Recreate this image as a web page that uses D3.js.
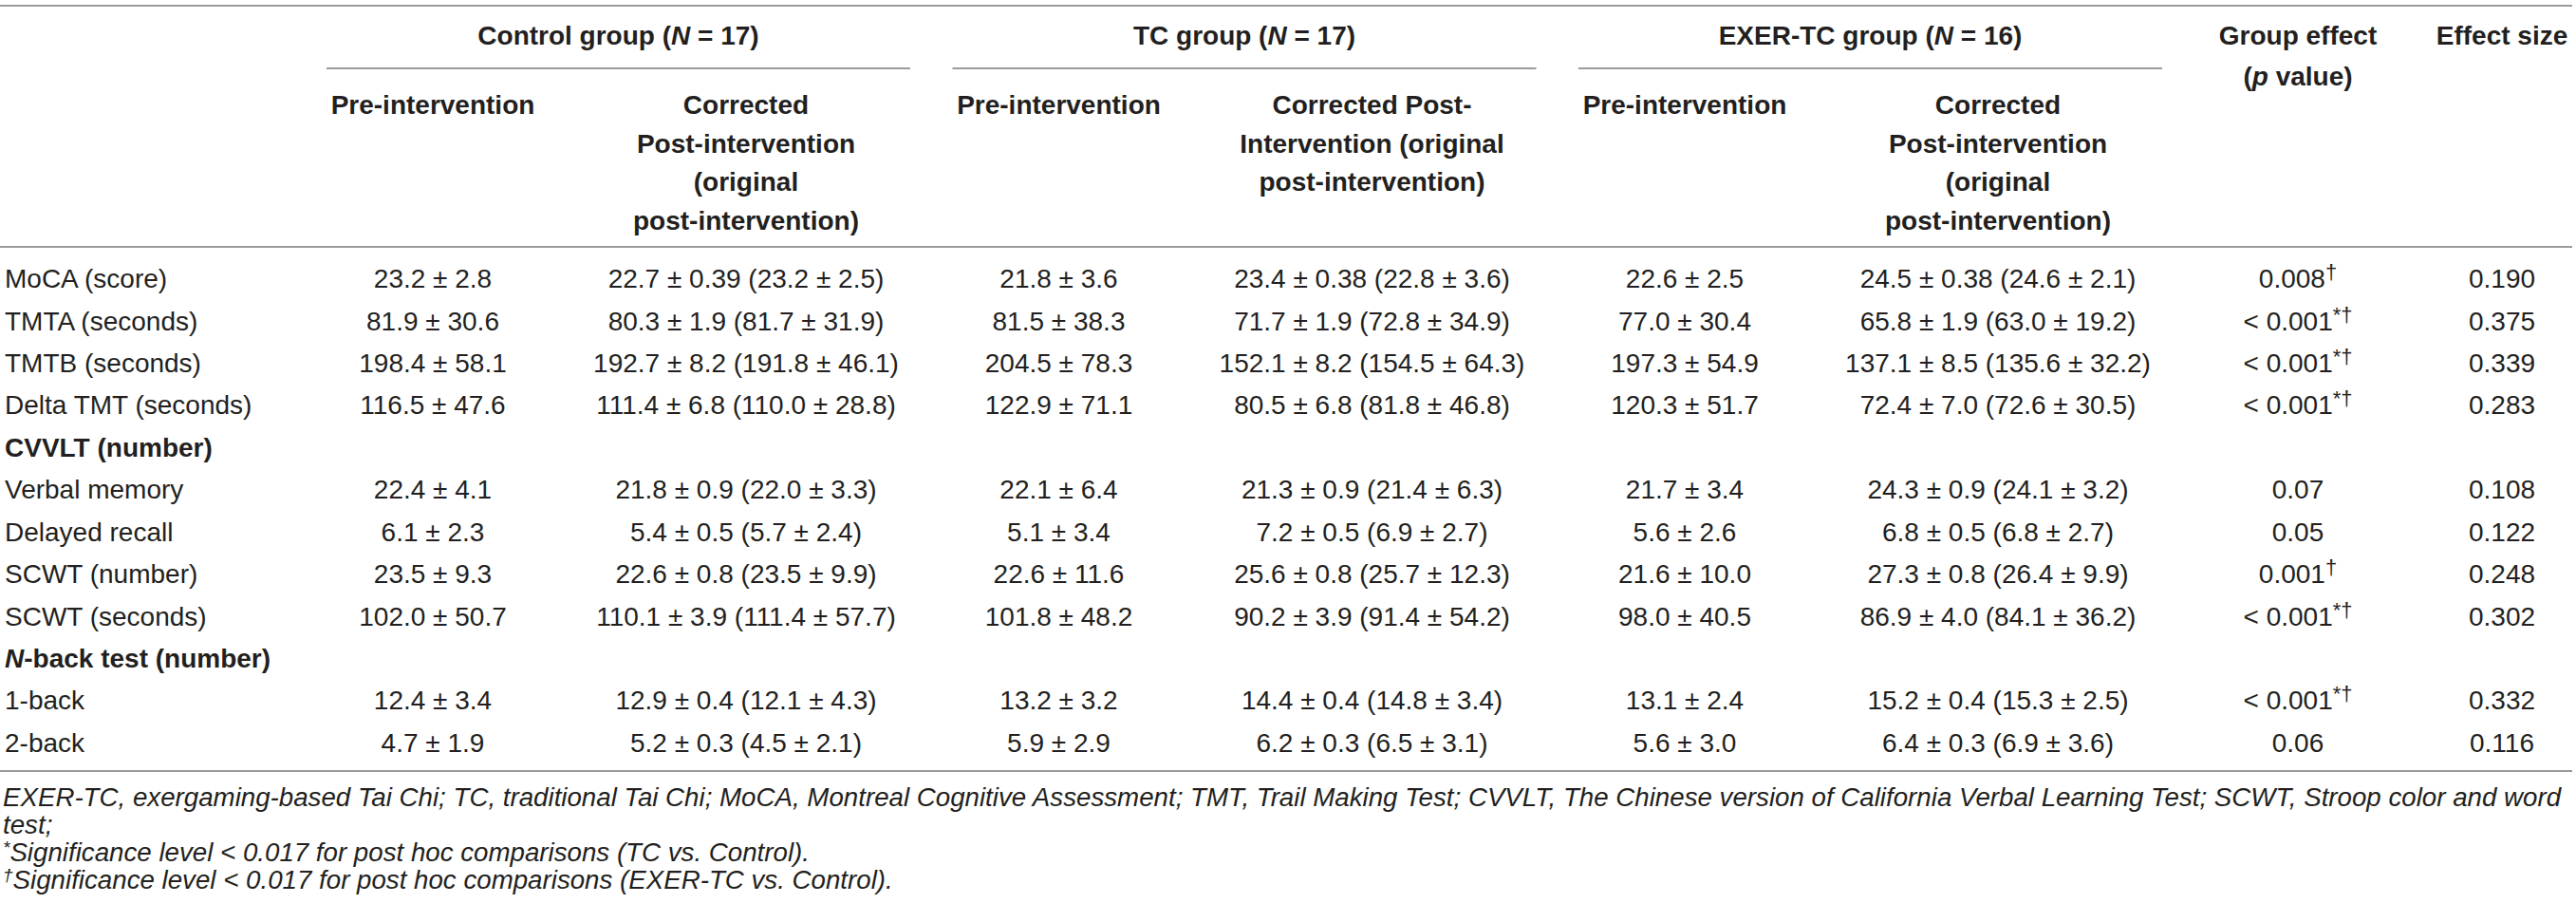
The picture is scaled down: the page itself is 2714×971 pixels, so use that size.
<!DOCTYPE html>
<html>
<head>
<meta charset="utf-8">
<script src="https://cdn.jsdelivr.net/npm/d3@7"></script>
<style>
  body { margin: 0; background: #fff; }
  svg { display: block; font-family: "Liberation Sans", Arial, sans-serif; }
</style>
</head>
<body>
<script>
// Table contents
const measures = ["MoCA (score)", "TMTA (seconds)", "TMTB (seconds)", "Delta TMT (seconds)",
  "CVVLT (number)", "Verbal memory", "Delayed recall", "SCWT (number)", "SCWT (seconds)",
  "N-back test (number)", "1-back", "2-back"];
const sectionRows = ["CVVLT (number)", "N-back test (number)"];

const controlPre = ["23.2 ± 2.8", "81.9 ± 30.6", "198.4 ± 58.1", "116.5 ± 47.6", null,
  "22.4 ± 4.1", "6.1 ± 2.3", "23.5 ± 9.3", "102.0 ± 50.7", null, "12.4 ± 3.4", "4.7 ± 1.9"];
const controlPost = ["22.7 ± 0.39 (23.2 ± 2.5)", "80.3 ± 1.9 (81.7 ± 31.9)", "192.7 ± 8.2 (191.8 ± 46.1)",
  "111.4 ± 6.8 (110.0 ± 28.8)", null, "21.8 ± 0.9 (22.0 ± 3.3)", "5.4 ± 0.5 (5.7 ± 2.4)",
  "22.6 ± 0.8 (23.5 ± 9.9)", "110.1 ± 3.9 (111.4 ± 57.7)", null, "12.9 ± 0.4 (12.1 ± 4.3)",
  "5.2 ± 0.3 (4.5 ± 2.1)"];
const tcPre = ["21.8 ± 3.6", "81.5 ± 38.3", "204.5 ± 78.3", "122.9 ± 71.1", null,
  "22.1 ± 6.4", "5.1 ± 3.4", "22.6 ± 11.6", "101.8 ± 48.2", null, "13.2 ± 3.2", "5.9 ± 2.9"];
const tcPost = ["23.4 ± 0.38 (22.8 ± 3.6)", "71.7 ± 1.9 (72.8 ± 34.9)", "152.1 ± 8.2 (154.5 ± 64.3)",
  "80.5 ± 6.8 (81.8 ± 46.8)", null, "21.3 ± 0.9 (21.4 ± 6.3)", "7.2 ± 0.5 (6.9 ± 2.7)",
  "25.6 ± 0.8 (25.7 ± 12.3)", "90.2 ± 3.9 (91.4 ± 54.2)", null, "14.4 ± 0.4 (14.8 ± 3.4)",
  "6.2 ± 0.3 (6.5 ± 3.1)"];
const exerPre = ["22.6 ± 2.5", "77.0 ± 30.4", "197.3 ± 54.9", "120.3 ± 51.7", null,
  "21.7 ± 3.4", "5.6 ± 2.6", "21.6 ± 10.0", "98.0 ± 40.5", null, "13.1 ± 2.4", "5.6 ± 3.0"];
const exerPost = ["24.5 ± 0.38 (24.6 ± 2.1)", "65.8 ± 1.9 (63.0 ± 19.2)", "137.1 ± 8.5 (135.6 ± 32.2)",
  "72.4 ± 7.0 (72.6 ± 30.5)", null, "24.3 ± 0.9 (24.1 ± 3.2)", "6.8 ± 0.5 (6.8 ± 2.7)",
  "27.3 ± 0.8 (26.4 ± 9.9)", "86.9 ± 4.0 (84.1 ± 36.2)", null, "15.2 ± 0.4 (15.3 ± 2.5)",
  "6.4 ± 0.3 (6.9 ± 3.6)"];
const pValues = ["0.008", "< 0.001", "< 0.001", "< 0.001", null, "0.07", "0.05", "0.001",
  "< 0.001", null, "< 0.001", "0.06"];
const pMarks = ["†", "*†", "*†", "*†", null, "", "", "†", "*†", null, "*†", ""];
const effectSizes = ["0.190", "0.375", "0.339", "0.283", null, "0.108", "0.122", "0.248",
  "0.302", null, "0.332", "0.116"];

const groups = [
  { name: "Control group", n: 17, pre: controlPre, post: controlPost,
    postHead: ["Corrected", "Post-intervention", "(original", "post-intervention)"] },
  { name: "TC group", n: 17, pre: tcPre, post: tcPost,
    postHead: ["Corrected Post-", "Intervention (original", "post-intervention)"] },
  { name: "EXER-TC group", n: 16, pre: exerPre, post: exerPost,
    postHead: ["Corrected", "Post-intervention", "(original", "post-intervention)"] }
];

const footnotes = [
  "EXER-TC, exergaming-based Tai Chi; TC, traditional Tai Chi; MoCA, Montreal Cognitive Assessment; TMT, Trail Making Test; CVVLT, The Chinese version of California Verbal Learning Test; SCWT, Stroop color and word",
  "test;",
  "*Significance level < 0.017 for post hoc comparisons (TC vs. Control).",
  "†Significance level < 0.017 for post hoc comparisons (EXER-TC vs. Control)."
];

// Layout
const width = 2714, height = 971;
const fontSize = 28, textColor = "#231f20", ruleColor = "#9b9b9b";
const ruleRight = 2710;

const svg = d3.select("body").append("svg")
  .attr("width", width)
  .attr("height", height);

// Scales
const groupX = d3.scaleLinear().domain([0, 1]).range([344, 1003.5]); // left edge of each group span
const groupWidth = 615;
const preOffset = 112, postOffset = 442;
const statX = d3.scaleOrdinal().domain(["p", "es"]).range([2421, 2636]);
const rowY = d3.scaleBand().domain(measures).range([271, 804]).padding(0);
const rowBase = d => rowY(d) + rowY.bandwidth() / 2 + 10;

const headLineY = d3.scaleLinear().domain([0, 1]).range([120, 160.5]);

function hrule(y, x1, x2) {
  svg.append("line")
    .attr("x1", x1).attr("x2", x2)
    .attr("y1", y).attr("y2", y)
    .attr("stroke", ruleColor)
    .attr("stroke-width", 2);
}

// Rules
hrule(6, 0, ruleRight);
hrule(260, 0, ruleRight);
hrule(812, 0, ruleRight);
groups.forEach((g, i) => hrule(72, groupX(i), groupX(i) + groupWidth));

// Group headers
const gh = svg.append("g").attr("font-weight", "bold").attr("font-size", fontSize).attr("fill", textColor);
groups.forEach((g, i) => {
  const t = gh.append("text")
    .attr("x", groupX(i) + groupWidth / 2)
    .attr("y", 47)
    .attr("text-anchor", "middle");
  t.append("tspan").text(g.name + " (");
  t.append("tspan").attr("font-style", "italic").text("N");
  t.append("tspan").text(" = " + g.n + ")");

  gh.append("text")
    .attr("x", groupX(i) + preOffset)
    .attr("y", headLineY(0))
    .attr("text-anchor", "middle")
    .text("Pre-intervention");

  g.postHead.forEach((line, k) => {
    gh.append("text")
      .attr("x", groupX(i) + postOffset)
      .attr("y", headLineY(k))
      .attr("text-anchor", "middle")
      .text(line);
  });
});

gh.append("text").attr("x", statX("p")).attr("y", 47).attr("text-anchor", "middle").text("Group effect");
const pv = gh.append("text").attr("x", statX("p")).attr("y", 90).attr("text-anchor", "middle");
pv.append("tspan").text("(");
pv.append("tspan").attr("font-style", "italic").text("p");
pv.append("tspan").text(" value)");
gh.append("text").attr("x", statX("es")).attr("y", 47).attr("text-anchor", "middle").text("Effect size");

// Body rows
const body = svg.append("g").attr("font-size", fontSize).attr("fill", textColor);

body.selectAll("text.label")
  .data(measures)
  .join("text")
  .attr("class", "label")
  .attr("x", 5)
  .attr("y", d => rowBase(d))
  .attr("font-weight", d => sectionRows.includes(d) ? "bold" : null)
  .each(function(d) {
    const t = d3.select(this);
    if (d.startsWith("N-back")) {
      t.append("tspan").attr("font-style", "italic").text("N");
      t.append("tspan").text(d.slice(1));
    } else {
      t.text(d);
    }
  });

groups.forEach((g, i) => {
  [[g.pre, preOffset], [g.post, postOffset]].forEach(([vals, off]) => {
    body.append("g").selectAll("text")
      .data(measures.map((m, j) => ({ m, v: vals[j] })).filter(d => d.v))
      .join("text")
      .attr("x", groupX(i) + off)
      .attr("y", d => rowBase(d.m))
      .attr("text-anchor", "middle")
      .text(d => d.v);
  });
});

body.append("g").selectAll("text")
  .data(measures.map((m, j) => ({ m, v: pValues[j], mark: pMarks[j] })).filter(d => d.v))
  .join("text")
  .attr("x", statX("p"))
  .attr("y", d => rowBase(d.m))
  .attr("text-anchor", "middle")
  .each(function(d) {
    const t = d3.select(this);
    t.append("tspan").text(d.v);
    if (d.mark) {
      t.append("tspan").attr("font-size", 22).attr("dy", -9).text(d.mark);
    }
  });

body.append("g").selectAll("text")
  .data(measures.map((m, j) => ({ m, v: effectSizes[j] })).filter(d => d.v))
  .join("text")
  .attr("x", statX("es"))
  .attr("y", d => rowBase(d.m))
  .attr("text-anchor", "middle")
  .text(d => d.v);

// Footnotes
const footY = d3.scaleLinear().domain([0, 1]).range([849, 878]);
svg.append("g")
  .attr("font-size", 27.7)
  .attr("font-style", "italic")
  .attr("fill", textColor)
  .selectAll("text")
  .data(footnotes)
  .join("text")
  .attr("x", 3)
  .attr("y", (d, i) => footY(i))
  .each(function(d) {
    const t = d3.select(this);
    if (d[0] === "*" || d[0] === "†") {
      t.append("tspan").attr("font-size", 19).attr("dy", -8).text(d[0]);
      t.append("tspan").attr("dy", 8).text(d.slice(1));
    } else {
      t.text(d);
    }
  });
</script>
</body>
</html>
